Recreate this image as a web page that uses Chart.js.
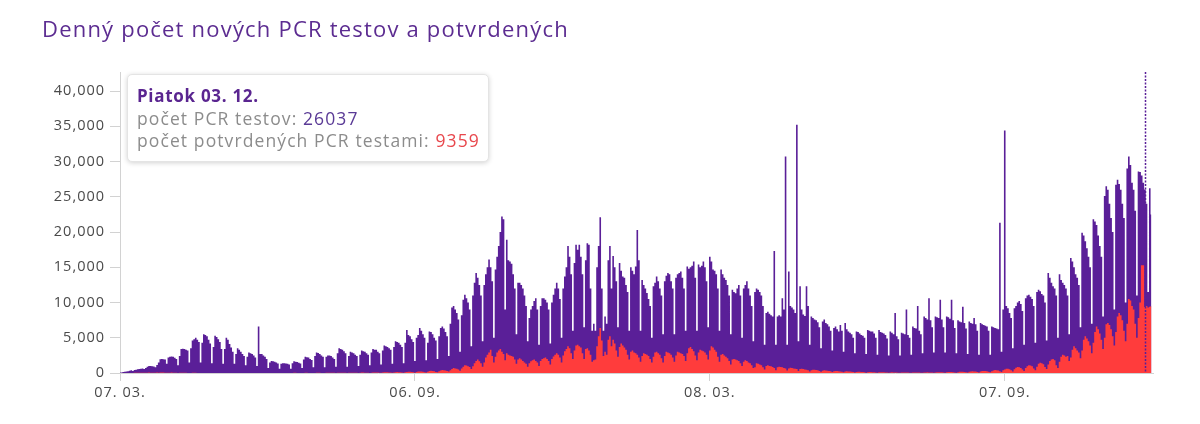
<!DOCTYPE html>
<html lang="sk">
<head>
<meta charset="utf-8">
<title>Denný počet nových PCR testov a potvrdených</title>
<script src="https://cdn.jsdelivr.net/npm/chart.js@4.4.1/dist/chart.umd.min.js"></script>
<style>
  html, body { margin: 0; padding: 0; background: #fff; }
  .wrap { position: relative; width: 1200px; height: 424px; overflow: hidden; font-family: 'Open Sans', sans-serif; }
  #chart { position: absolute; left: 0; top: 0; }
  .title { position: absolute; left: 42px; top: 14px; margin: 0; font-size: 22px; line-height: 28px; font-weight: 400; color: #5c2c91; letter-spacing: 1.2px; white-space: nowrap; }
  .tip { position: absolute; left: 127px; top: 74px; width: 362px; height: 88px; box-sizing: border-box; padding: 10px 9px; background: #fff; border: 1px solid #e4e4e4; border-radius: 5px; box-shadow: 0 1px 5px rgba(0,0,0,0.18); font-size: 17.5px; line-height: 22px; letter-spacing: 1.1px; color: #8c8c8c; white-space: nowrap; }
  .tip__title { font-weight: 700; color: #5a2590; font-size: 17px; letter-spacing: 0.7px; }
  .tip__tests { color: #5a3a96; }
  .tip__conf { color: #e8474c; }
</style>
</head>
<body>
<div class="wrap">
  <canvas id="chart" width="1200" height="424"></canvas>
  <h1 class="title">Denný počet nových PCR testov a potvrdených</h1>
  <div class="tip" id="tip"></div>
</div>
<script>
// first day of the series (index 0)
const startDate = [2020, 2, 7];
const weekdayNames = ['Nedeľa', 'Pondelok', 'Utorok', 'Streda', 'Štvrtok', 'Piatok', 'Sobota'];

// x ticks, as day indexes from startDate
const xTickDays = [0, 183, 366, 549];
const yTickValues = [0, 5000, 10000, 15000, 20000, 25000, 30000, 35000, 40000];
const yMax = 42700;
const xMax = 641;

// hovered day shown in the tooltip (03. 12.)
const tooltipDay = 636;

// daily PCR tests, one row per week (Sat..Fri)
const testsPerDay = [
  80, 60, 130, 170, 210, 260, 320,
  380, 300, 430, 470, 520, 560, 600,
  640, 560, 720, 880, 980, 1000, 950,
  930, 820, 1150, 1500, 1950, 2000, 1950,
  1900, 1300, 2200, 2300, 2350, 2300, 2150,
  2000, 1100, 2400, 3400, 3450, 3400, 3300,
  3200, 1500, 3500, 4600, 4800, 5000, 4700,
  4400, 1500, 4300, 5500, 5400, 5200, 4700,
  4200, 1400, 3700, 5300, 5100, 4800, 4400,
  3400, 1300, 3400, 5000, 4700, 4100, 3600,
  3000, 1300, 2700, 3500, 3300, 3000, 2700,
  2400, 1100, 2300, 2900, 2800, 2700, 2500,
  2200, 1000, 6600, 2700, 2700, 2500, 2300,
  2000, 700, 1500, 1700, 1650, 1600, 1500,
  1350, 600, 1300, 1400, 1400, 1350, 1300,
  1200, 600, 1400, 1650, 1600, 1550, 1450,
  1350, 700, 1900, 2300, 2250, 2200, 2000,
  1850, 800, 2400, 2900, 2850, 2700, 2500,
  2300, 800, 2300, 2500, 2500, 2400, 2200,
  2000, 900, 2800, 3500, 3400, 3300, 3100,
  2800, 900, 2400, 3000, 2900, 2800, 2600,
  2400, 1000, 2600, 3200, 3100, 3000, 2800,
  2600, 1100, 2900, 3400, 3300, 3300, 3000,
  2800, 1200, 3200, 3900, 3800, 3700, 3500,
  3300, 1300, 3700, 4500, 4400, 4300, 4000,
  3700, 1400, 4300, 6100, 5400, 5200, 4800,
  4400, 1700, 5000, 5400, 6400, 6000, 5500,
  5000, 1800, 4300, 5900, 5800, 5500, 5000,
  4600, 2000, 5200, 6400, 6600, 6300, 5800,
  5200, 2400, 7000, 9300, 9500, 9000, 8500,
  7600, 3000, 8200, 10400, 11100, 10600, 10000,
  9000, 3800, 11000, 12800, 14200, 13500, 12500,
  11000, 4500, 12500, 14000, 15000, 16100, 15000,
  13000, 5000, 14700, 16500, 18000, 20000, 22200,
  21800, 9000, 18900, 16000, 15800, 15500, 14000,
  12000, 5500, 12800, 12800, 12500, 12000, 11000,
  9500, 4500, 7800, 9000, 9500, 10200, 10600,
  9000, 4000, 9500, 10600, 10600, 10400, 10000,
  9000, 4200, 10000, 11100, 12000, 12800, 12000,
  10500, 5000, 12000, 13700, 15000, 18000, 16500,
  14000, 6000, 15600, 18200, 17500, 18200, 16500,
  14000, 6500, 16000, 18400, 18200, 12000, 6000,
  7000, 6000, 15000, 18000, 22100, 12000, 6000,
  8000, 7000, 16000, 18000, 12000, 16600, 15000,
  13000, 6500, 15600, 14500, 13700, 13500, 12500,
  11500, 6000, 15000, 14500, 14000, 15100, 20300,
  16000, 6000, 13200, 12500, 12000, 11350, 10500,
  9500, 5000, 12300, 12800, 13700, 13000, 12000,
  11000, 5500, 13000, 13800, 14200, 14000, 13000,
  12000, 5500, 13500, 14000, 14200, 14400, 13500,
  12000, 6000, 15100, 14800, 15000, 15200, 15800,
  13500, 6000, 15400, 15000, 15200, 15800, 15000,
  13000, 6500, 16500, 15800, 14700, 14500, 14000,
  12000, 6000, 14700, 14000, 13500, 13200, 12500,
  11000, 5500, 11800, 11500, 11300, 12000, 12500,
  11000, 5000, 12000, 12500, 13000, 12000, 11000,
  9500, 4500, 11500, 12000, 11800, 11500, 11000,
  9500, 4000, 8500, 8700, 8400, 8200, 8000,
  17300, 4000, 8000, 8200, 8000, 10600, 9000,
  30700, 4000, 14400, 9500, 9300, 9000, 8500,
  35200, 4500, 12300, 9000, 8300, 8100, 12300,
  9500, 4000, 8000, 7800, 7600, 7500, 7200,
  6500, 3500, 7300, 7600, 7100, 6900, 6600,
  6000, 3200, 6400, 6600, 6200, 5900, 6800,
  6000, 3000, 7100, 6200, 5900, 5700, 5500,
  5000, 2800, 5900, 5800, 5600, 5400, 5300,
  5000, 2700, 6100, 6000, 5900, 5900, 5600,
  5000, 2600, 6100, 5800, 5700, 5600, 5400,
  4900, 2500, 5900, 5700, 5500, 8500, 5200,
  4800, 2500, 5700, 5600, 5500, 9000, 5400,
  5000, 2600, 6600, 6400, 6300, 9500, 6000,
  5500, 2800, 8000, 7800, 7600, 10600, 7500,
  6500, 2900, 8000, 7900, 7800, 10400, 7600,
  6500, 2900, 8000, 7900, 7700, 10400, 7500,
  6400, 2800, 7500, 7300, 7200, 9400, 7100,
  6300, 2700, 7300, 7100, 7000, 7800, 6900,
  6000, 2600, 7100, 6900, 6800, 6700, 6600,
  6000, 2600, 6600, 6500, 6400, 6300, 6200,
  21300, 3000, 9000, 34400, 9500, 9200, 8500,
  7800, 3500, 9200, 9500, 10000, 10200, 9800,
  8800, 4000, 10600, 11000, 11100, 10800, 10500,
  9500, 4300, 11500, 11800, 11600, 11200, 11000,
  10000, 4600, 14200, 13500, 12800, 12300, 12000,
  11000, 5000, 14000, 13200, 12800, 12500, 12000,
  11000, 5500, 16300, 15800, 15000, 14000, 13500,
  12500, 6500, 19900, 19500, 18700, 17700, 16500,
  15000, 7000, 21800, 21500, 21000, 19500, 18000,
  16500, 8000, 25100, 26500, 26000, 24000, 22000,
  20000, 9000, 26700, 27400, 26800, 26000, 24000,
  22000, 10000, 29000, 30700, 29500, 27000, 26000,
  23000, 11000, 28600, 28500, 28000, 27000, 26037,
  24000, 11500, 26200, 22500
];

// daily cases confirmed by PCR, same days
const confirmedPerDay = [
  1, 0, 2, 2, 3, 5, 8,
  11, 14, 21, 29, 31, 26, 34,
  40, 22, 45, 38, 55, 42, 48,
  44, 24, 58, 35, 62, 71, 55,
  40, 18, 38, 51, 62, 44, 35,
  25, 12, 29, 34, 38, 22, 19,
  15, 8, 17, 24, 21, 18, 12,
  10, 3, 8, 12, 9, 6, 7,
  5, 2, 4, 6, 3, 4, 2,
  3, 1, 2, 5, 3, 2, 1,
  2, 0, 1, 3, 4, 2, 1,
  1, 0, 2, 3, 5, 4, 2,
  3, 0, 4, 6, 8, 5, 3,
  4, 1, 5, 9, 7, 6, 8,
  6, 2, 11, 14, 12, 9, 10,
  8, 4, 15, 21, 18, 16, 13,
  10, 5, 12, 19, 22, 17, 14,
  9, 4, 14, 18, 26, 21, 17,
  12, 6, 20, 28, 34, 29, 24,
  18, 9, 25, 36, 41, 33, 28,
  20, 11, 30, 48, 52, 45, 38,
  24, 12, 38, 55, 61, 50, 42,
  30, 15, 46, 72, 80, 68, 58,
  38, 20, 58, 96, 110, 92, 85,
  55, 28, 80, 123, 140, 118, 102,
  70, 36, 110, 150, 171, 162, 140,
  95, 52, 140, 205, 230, 210, 190,
  120, 68, 180, 270, 310, 285, 250,
  150, 90, 240, 360, 420, 390, 350,
  300, 200, 380, 560, 700, 650, 600,
  500, 330, 640, 900, 1100, 1050, 960,
  850, 550, 950, 1400, 1700, 1900, 1650,
  1400, 900, 1500, 2200, 2600, 2900, 3300,
  2400, 1500, 2300, 2900, 3200, 3400, 3000,
  2700, 1800, 2800, 2600, 2500, 2400, 2300,
  1900, 1300, 1900, 2100, 1900, 1700, 1500,
  1300, 900, 1400, 1650, 1800, 1900, 1700,
  1500, 1000, 1700, 2000, 2100, 2200, 2000,
  1700, 1200, 2000, 2350, 2600, 2800, 2600,
  2200, 1500, 2500, 3100, 3400, 3800, 3500,
  2800, 2000, 3200, 3900, 4000, 3800, 3600,
  2800, 2000, 3400, 3500, 3200, 2600, 1600,
  1800, 1900, 3800, 5200, 6400, 4600, 2400,
  3000, 2600, 4700, 5200, 3800, 4700, 4200,
  3200, 2300, 3700, 4200, 3900, 3600, 3300,
  2600, 1900, 3000, 3200, 2900, 2800, 2600,
  2200, 1600, 2400, 2800, 2700, 2600, 2400,
  2000, 1500, 2300, 2900, 3000, 2800, 2600,
  2100, 1500, 2400, 3000, 2900, 2800, 2600,
  2200, 1600, 2500, 3000, 2900, 2800, 2700,
  2400, 1700, 2800, 3500, 3700, 3400, 3100,
  2500, 1800, 2900, 3300, 3200, 3100, 2900,
  2600, 1900, 3200, 3800, 3600, 3300, 3000,
  2300, 1600, 2600, 2700, 2500, 2300, 2100,
  1700, 1200, 1900, 2000, 1900, 1800, 1700,
  1400, 1000, 1600, 1800, 1700, 1500, 1400,
  1100, 700, 800, 1400, 1300, 1200, 1100,
  800, 500, 1000, 1100, 1000, 950, 850,
  700, 400, 800, 900, 850, 800, 700,
  650, 350, 650, 750, 700, 650, 600,
  550, 300, 550, 600, 550, 500, 470,
  400, 220, 400, 470, 450, 420, 380,
  300, 170, 330, 380, 350, 320, 300,
  240, 130, 260, 300, 280, 250, 230,
  190, 100, 210, 240, 220, 200, 180,
  140, 70, 150, 180, 170, 150, 130,
  110, 50, 110, 140, 130, 120, 100,
  80, 40, 90, 110, 100, 90, 80,
  60, 30, 70, 90, 85, 80, 70,
  50, 25, 60, 80, 75, 70, 60,
  45, 20, 55, 75, 70, 65, 55,
  45, 20, 60, 80, 90, 85, 70,
  55, 25, 80, 110, 120, 110, 95,
  70, 35, 100, 130, 150, 140, 120,
  85, 45, 120, 170, 190, 180, 150,
  110, 60, 160, 220, 240, 230, 200,
  140, 80, 200, 280, 300, 290, 260,
  180, 100, 250, 360, 420, 400, 350,
  260, 150, 380, 500, 620, 600, 540,
  380, 220, 540, 760, 850, 820, 720,
  500, 300, 700, 950, 1100, 1050, 950,
  650, 400, 900, 1300, 1450, 1400, 1250,
  850, 550, 1200, 1700, 1900, 2000, 1800,
  1100, 700, 1600, 2300, 2600, 2500, 2300,
  2400, 1700, 2200, 3300, 3800, 3500, 3200,
  2900, 2100, 3200, 4700, 5200, 4900, 4500,
  3900, 2800, 4300, 5800, 6600, 6200, 5600,
  4700, 3400, 5000, 6900, 7100, 6800, 6200,
  5200, 3900, 5800, 8000, 8500, 8200, 7500,
  6000, 4500, 7000, 10500, 10300, 9500, 9000,
  7000, 5000, 7800, 10000, 15300, 15300, 9359,
  9500, 9300, 9400, 9500
];

const PURPLE = '#5a1f98';
const RED = '#ff3c3c';
const AXIS = '#d2d2d2';
const TICK_TEXT = '#4a4a4a';

function dayDate(i) {
  return new Date(startDate[0], startDate[1], startDate[2] + i);
}

function dayLabel(i) {
  const d = dayDate(i);
  const dd = String(d.getDate()).padStart(2, '0');
  const mm = String(d.getMonth() + 1).padStart(2, '0');
  return `${dd}. ${mm}.`;
}

function toPoints(values) {
  return values.map((y, x) => ({ x, y }));
}

function renderTooltip() {
  const tip = document.getElementById('tip');
  const day = dayDate(tooltipDay);
  tip.innerHTML = `
    <div class="tip__title">${weekdayNames[day.getDay()]} ${dayLabel(tooltipDay)}</div>
    <div>počet PCR testov: <span class="tip__tests">${testsPerDay[tooltipDay]}</span></div>
    <div>počet potvrdených PCR testami: <span class="tip__conf">${confirmedPerDay[tooltipDay]}</span></div>
  `;
}

// wider tick text, the original font runs wide
const tickSpacing = {
  id: 'tickSpacing',
  beforeDraw(chart) {
    chart.ctx.letterSpacing = '1px';
  },
};

const hoverLine = {
  id: 'hoverLine',
  afterDatasetsDraw(chart) {
    const { ctx, chartArea, scales } = chart;
    const x = Math.round(scales.x.getPixelForValue(tooltipDay)) + 0.5;
    ctx.save();
    ctx.strokeStyle = PURPLE;
    ctx.lineWidth = 1.5;
    ctx.setLineDash([2, 1.5]);
    ctx.beginPath();
    ctx.moveTo(x, chartArea.top);
    ctx.lineTo(x, chartArea.bottom);
    ctx.stroke();
    ctx.restore();
  },
};

const tickFont = { family: "'Open Sans', sans-serif", size: 14.5 };

new Chart(document.getElementById('chart'), {
  type: 'line',
  data: {
    datasets: [
      {
        label: 'počet potvrdených PCR testami',
        data: toPoints(confirmedPerDay),
        backgroundColor: RED,
        borderColor: 'rgba(0,0,0,0)',
        borderWidth: 0,
        fill: 'origin',
        stepped: 'middle',
        pointRadius: 0,
        order: 1,
      },
      {
        label: 'počet PCR testov',
        data: toPoints(testsPerDay),
        backgroundColor: PURPLE,
        borderColor: 'rgba(0,0,0,0)',
        borderWidth: 0,
        fill: 'origin',
        stepped: 'middle',
        pointRadius: 0,
        order: 2,
      },
    ],
  },
  options: {
    responsive: false,
    animation: false,
    devicePixelRatio: 1,
    layout: { padding: { top: 72, right: 47, left: 0, bottom: 0 } },
    plugins: { legend: { display: false }, tooltip: { enabled: false } },
    scales: {
      x: {
        type: 'linear',
        min: 0,
        max: xMax,
        afterBuildTicks: (scale) => { scale.ticks = xTickDays.map((value) => ({ value })); },
        afterFit: (scale) => { scale.height = 51; },
        ticks: {
          callback: (value) => dayLabel(value),
          color: TICK_TEXT,
          font: tickFont,
          padding: 3,
          maxRotation: 0,
        },
        grid: { drawOnChartArea: false, drawTicks: true, tickLength: 8, color: AXIS },
        border: { display: true, color: AXIS },
      },
      y: {
        min: 0,
        max: yMax,
        afterBuildTicks: (scale) => { scale.ticks = yTickValues.map((value) => ({ value })); },
        afterFit: (scale) => { scale.width = 120; },
        ticks: {
          callback: (value) => value.toLocaleString('en-US'),
          color: TICK_TEXT,
          font: tickFont,
          padding: 5,
        },
        grid: { drawOnChartArea: false, drawTicks: true, tickLength: 10, color: AXIS },
        border: { display: true, color: AXIS },
      },
    },
  },
  plugins: [tickSpacing, hoverLine],
});

renderTooltip();
</script>
</body>
</html>
